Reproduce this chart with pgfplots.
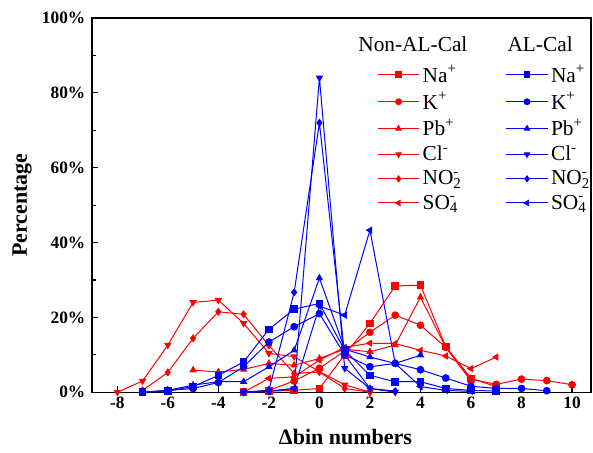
\documentclass[border=0pt]{standalone}
\usepackage{fontspec}
\setmainfont{Liberation Serif}
\usepackage{pgfplots}
\pgfplotsset{compat=1.18}

% Non-AL-Cal (red)
\pgfplotstableread{
x y
-3 0
-2 0.3
-1 0.5
0 1
1 10
2 18.4
3 28.4
4 28.6
5 12.2
6 3.7
7 1.5
}\rNa
\pgfplotstableread{
x y
-3 0
-2 0.5
-1 3
0 6.4
1 11
2 16
3 20.6
4 17.9
5 12
6 3.5
7 2.1
8 3.5
9 3.1
10 2
}\rK
\pgfplotstableread{
x y
-5 5.9
-4 5.4
-3 6.1
-2 7.7
-1 7.2
0 9
1 11.5
2 10.8
3 12.6
4 25.4
5 12
6 3
}\rPb
\pgfplotstableread{
x y
-8 0
-7 3
-6 12.6
-5 24
-4 24.6
-3 18.4
-2 10.4
-1 9.5
0 5.5
1 2
2 0
}\rCl
\pgfplotstableread{
x y
-7 0.5
-6 5.3
-5 14.4
-4 21.5
-3 20.8
-2 12.5
-1 5
0 5.4
1 1
2 0
}\rNO
\pgfplotstableread{
x y
-3 0
-2 3.7
-1 4.1
0 8.6
1 12
2 13.1
3 13
4 11.2
5 9.7
6 6.3
7 9.4
}\rSO

% AL-Cal (blue)
\pgfplotstableread{
x y
-7 0
-6 0.3
-5 1.5
-4 4.5
-3 8.1
-2 16.8
-1 22.2
0 23.7
1 11.2
2 4.5
3 2.8
4 2.8
5 1
6 0.5
7 0.3
}\bNa
\pgfplotstableread{
x y
-7 0
-6 0.5
-5 1
-4 2.6
-3 6.8
-2 13.4
-1 17.5
0 21
1 10
2 6.8
3 7.7
4 6
5 3.8
6 1.6
7 1
8 1
9 0.4
}\bK
\pgfplotstableread{
x y
-7 0
-6 0.5
-5 1.9
-4 2.8
-3 2.8
-2 6.8
-1 11.2
0 30.5
1 11.5
2 9.4
3 7.7
4 9.9
}\bPb
\pgfplotstableread{
x y
-3 0
-2 0.2
-1 1
0 84
1 6.4
2 1
3 0
}\bCl
\pgfplotstableread{
x y
-3 0
-2 0.5
-1 26.7
0 72
1 10
2 1
3 0.3
}\bNO
\pgfplotstableread{
x y
-3 0
-2 0.3
-1 1
0 23
1 20.6
2 43.3
3 7.7
4 1.5
5 0.5
6 0.2
}\bSO

\begin{document}
\begin{tikzpicture}
\begin{axis}[
  width=374pt, height=280.5pt, scale only axis,
  xmin=-9, xmax=10.75, ymin=0, ymax=100,
  xtick={-8,-6,...,10}, ytick={0,20,...,100}, minor ytick={10,30,...,90},
  tick pos=left, tick align=inside,
  major tick length=4.5pt, minor tick length=3pt,
  axis line style={line width=0.9pt},
  every tick/.style={black, line width=0.9pt},
  yticklabel={\pgfmathprintnumber{\tick}\%},
  yticklabel style={xshift=-1.5pt},
  /pgf/number format/assume math mode=true,
  tick label style={font=\bfseries\fontsize{13}{15}\selectfont},
  xlabel={Δbin numbers}, ylabel={Percentage},
  every axis x label/.style={at={(axis description cs:0.508,-0.12)}, anchor=center,
    font=\bfseries\fontsize{16.5}{18}\selectfont},
  every axis y label/.style={at={(axis description cs:-0.1404,0.5)}, rotate=90, anchor=center,
    font=\bfseries\fontsize{16.5}{18}\selectfont},
  every axis plot/.append style={line width=0.75pt, mark size=2.5pt},
  legend style={draw=none, fill=none, at={(0.563,0.888)}, anchor=north west,
    font=\fontsize{16}{18}\selectfont, row sep=2pt,
    /tikz/column 2/.style={column sep=31pt}},
  legend columns=6, transpose legend,
  legend cell align=left,
  legend image code/.code={\draw[mark repeat=2,mark phase=2,mark size=2.2pt] plot coordinates {(0cm,0cm)(0.55cm,0cm)(1.1cm,0cm)};},
]
\addplot[red, mark=square*] table {\rNa};
\addlegendentry{Na\textsuperscript{+}}
\addplot[red, mark=*] table {\rK};
\addlegendentry{K\textsuperscript{+}}
\addplot[red, mark=triangle*] table {\rPb};
\addlegendentry{Pb\textsuperscript{+}}
\addplot[red, mark=triangle*, mark options={rotate=180}] table {\rCl};
\addlegendentry{Cl\textsuperscript{-}}
\addplot[red, mark=diamond*] table {\rNO};
\addlegendentry{NO\rlap{\textsuperscript{-}}\textsubscript{2}}
\addplot[red, mark=triangle*, mark options={rotate=90}] table {\rSO};
\addlegendentry{SO\rlap{\textsuperscript{-}}\textsubscript{4}}
\addplot[blue, mark=square*] table {\bNa};
\addlegendentry{Na\textsuperscript{+}}
\addplot[blue, mark=*] table {\bK};
\addlegendentry{K\textsuperscript{+}}
\addplot[blue, mark=triangle*] table {\bPb};
\addlegendentry{Pb\textsuperscript{+}}
\addplot[blue, mark=triangle*, mark options={rotate=180}] table {\bCl};
\addlegendentry{Cl\textsuperscript{-}}
\addplot[blue, mark=diamond*] table {\bNO};
\addlegendentry{NO\rlap{\textsuperscript{-}}\textsubscript{2}}
\addplot[blue, mark=triangle*, mark options={rotate=90}] table {\bSO};
\addlegendentry{SO\rlap{\textsuperscript{-}}\textsubscript{4}}
\node[font=\fontsize{16}{18}\selectfont] at (rel axis cs:0.643,0.93) {Non-AL-Cal};
\node[font=\fontsize{16}{18}\selectfont] at (rel axis cs:0.898,0.93) {AL-Cal};
\end{axis}
\pgfresetboundingbox
\path[use as bounding box] ([xshift=-69pt,yshift=-45pt]current axis.south west) rectangle ([xshift=1.5pt,yshift=13.5pt]current axis.north east);
\end{tikzpicture}
\end{document}
